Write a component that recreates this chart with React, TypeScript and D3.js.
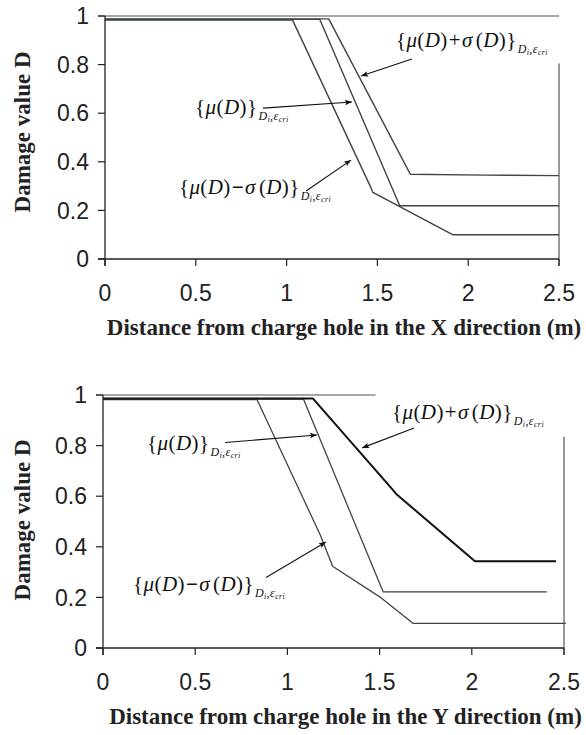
import React from "react";
import * as d3 from "d3";

// ---------- shared axis data ----------
const xTicks = [0, 0.5, 1, 1.5, 2, 2.5];
const xTickLabels = ["0", "0.5", "1", "1.5", "2", "2.5"];
const yTicks = [0, 0.2, 0.4, 0.6, 0.8, 1];
const yTickLabels = ["0", "0.2", "0.4", "0.6", "0.8", "1"];
const yTitle = "Damage value D";
const xTitleTop = "Distance from charge hole in the X direction (m)";
const xTitleBottom = "Distance from charge hole in the Y direction (m)";

// ---------- top panel (X direction) ----------
const topMinusX = [0, 1.033, 1.461, 1.475, 1.914, 2.5];
const topMinusD = [0.983, 0.983, 0.299, 0.274, 0.1, 0.1];
const topMeanX = [0, 1.183, 1.623, 2.5];
const topMeanD = [0.986, 0.986, 0.219, 0.219];
const topPlusX = [0, 1.232, 1.681, 2.1, 2.5];
const topPlusD = [0.988, 0.988, 0.349, 0.345, 0.343];

// ---------- bottom panel (Y direction) ----------
const botMinusX = [0, 0.835, 1.18, 1.245, 1.509, 1.681, 2.51];
const botMinusD = [0.982, 0.982, 0.444, 0.323, 0.198, 0.0975, 0.0975];
const botMeanX = [0, 1.087, 1.519, 2.407];
const botMeanD = [0.984, 0.984, 0.222, 0.222];
const botPlusX = [0, 1.139, 1.56, 1.59, 2.017, 2.457];
const botPlusD = [0.986, 0.986, 0.635, 0.609, 0.3425, 0.3425];

// annotation kinds: "plus", "mean", "minus"
const topAnnKind = ["plus", "mean", "minus"];
const topAnnTextX = [1.602, 0.496, 0.407];
const topAnnTextD = [0.872, 0.597, 0.267];
const topArrowFromX = [1.69, 0.87, 1.107];
const topArrowFromD = [0.823, 0.621, 0.28];
const topArrowToX = [1.41, 1.36, 1.355];
const topArrowToD = [0.753, 0.646, 0.407];

const botAnnKind = ["plus", "mean", "minus"];
const botAnnTextX = [1.567, 0.239, 0.163];
const botAnnTextD = [0.905, 0.783, 0.225];
const botArrowFromX = [1.687, 0.662, 0.884];
const botArrowFromD = [0.87, 0.812, 0.279];
const botArrowToX = [1.405, 1.16, 1.209];
const botArrowToD = [0.791, 0.842, 0.419];

const SERIF = "'Liberation Serif', 'Times New Roman', serif";
const SANS = "'Liberation Sans', Arial, sans-serif";
const CURVE = "#3d4545";

function AnnText({ kind, x, y }: { kind: string; x: number; y: number }) {
  const fs = 21;
  const it = { fontStyle: "italic" as const };
  const body =
    kind === "mean" ? (
      <>
        <tspan>{"{"}</tspan>
        <tspan {...it}>μ</tspan>
        <tspan>(</tspan>
        <tspan {...it}>D</tspan>
        <tspan>)</tspan>
        <tspan>{"}"}</tspan>
      </>
    ) : (
      <>
        <tspan>{"{"}</tspan>
        <tspan {...it}>μ</tspan>
        <tspan>(</tspan>
        <tspan {...it}>D</tspan>
        <tspan>)</tspan>
        <tspan dx={1} fontWeight={kind === "minus" ? "bold" : "normal"}>{kind === "plus" ? "+" : "−"}</tspan>
        <tspan dx={1} {...it}>σ</tspan>
        <tspan dx={3}>(</tspan>
        <tspan {...it}>D</tspan>
        <tspan>)</tspan>
        <tspan>{"}"}</tspan>
      </>
    );
  return (
    <text x={x} y={y} fontFamily={SERIF} fontSize={fs} letterSpacing={0.4} fill="#111">
      {body}
      <tspan dx={1} dy={6} fontSize={12} {...it}>D</tspan>
      <tspan dy={2} fontSize={8} {...it}>i</tspan>
      <tspan dy={-2} fontSize={12}>,</tspan>
      <tspan fontSize={12} {...it}>ε</tspan>
      <tspan dy={2} fontSize={8} {...it}>cri</tspan>
    </text>
  );
}

type PanelProps = {
  left: number; right: number; top: number; bottom: number;
  series: { x: number[]; d: number[]; w: number; c: string }[];
  topLineEnd: number; rightLineStart: number;
  annKind: string[]; annX: number[]; annD: number[];
  fromX: number[]; fromD: number[]; toX: number[]; toD: number[];
  xTitle: string; yTitleX: number; yTitleY: number; markerId: string;
};

function Panel(p: PanelProps) {
  const x = d3.scaleLinear().domain([0, 2.5]).range([p.left, p.right]);
  const y = d3.scaleLinear().domain([0, 1]).range([p.bottom, p.top]);
  const line = d3.line<[number, number]>().x((v) => x(v[0])).y((v) => y(v[1]));
  return (
    <g>
      <defs>
        <marker id={p.markerId} viewBox="0 0 10 10" refX={10} refY={5} markerWidth={10} markerHeight={7} orient="auto" markerUnits="userSpaceOnUse">
          <path d="M0,1 L10,5 L0,9 L2,5 Z" fill="#111" />
        </marker>
      </defs>
      {/* top border at D=1 */}
      <line x1={x(0) - 7} x2={x(p.topLineEnd)} y1={y(1)} y2={y(1)} stroke="#8a8a8a" strokeWidth={1.4} />
      {/* right border */}
      <line x1={x(2.5)} x2={x(2.5)} y1={y(p.rightLineStart)} y2={y(0) + 7} stroke="#555" strokeWidth={1.2} />
      {/* curves */}
      {p.series.map((s, i) => (
        <path key={i} d={line(s.x.map((v, j) => [v, s.d[j]] as [number, number])) || ""} fill="none" stroke={s.c} strokeWidth={s.w} strokeLinejoin="round" />
      ))}
      {/* axes */}
      <line x1={x(0)} x2={x(0)} y1={y(1)} y2={y(0) + 7} stroke="#222" strokeWidth={1.3} />
      <line x1={x(0) - 7} x2={x(2.5)} y1={y(0)} y2={y(0)} stroke="#222" strokeWidth={1.4} />
      {yTicks.map((t, i) => (
        <g key={"y" + i}>
          <line x1={x(0) - 7} x2={x(0)} y1={y(t)} y2={y(t)} stroke="#222" strokeWidth={1.2} />
          <text x={x(0) - 16} y={y(t)} dy="0.36em" textAnchor="end" fontFamily={SANS} fontSize={23} fill="#222">
            {yTickLabels[i]}
          </text>
        </g>
      ))}
      {xTicks.map((t, i) => (
        <g key={"x" + i}>
          <line x1={x(t)} x2={x(t)} y1={y(0)} y2={y(0) + 7} stroke="#222" strokeWidth={1.2} />
          <text x={x(t)} y={y(0) + 42} textAnchor="middle" fontFamily={SANS} fontSize={23} fill="#222">
            {xTickLabels[i]}
          </text>
        </g>
      ))}
      {/* annotations */}
      {p.annKind.map((k, i) => (
        <g key={"a" + i}>
          <AnnText kind={k} x={x(p.annX[i])} y={y(p.annD[i])} />
          <line x1={x(p.fromX[i])} y1={y(p.fromD[i])} x2={x(p.toX[i])} y2={y(p.toD[i])} stroke="#111" strokeWidth={1.1} markerEnd={`url(#${p.markerId})`} />
        </g>
      ))}
      {/* titles */}
      <text x={(p.left + p.right) / 2 + 12} y={y(0) + 76} textAnchor="middle" fontFamily={SERIF} fontWeight="bold" fontSize={23} fill="#222">
        {p.xTitle}
      </text>
      <text transform={`translate(${p.yTitleX},${p.yTitleY}) rotate(-90)`} textAnchor="middle" dy="0.35em" fontFamily={SERIF} fontWeight="bold" fontSize={23} fill="#222">
        {yTitle}
      </text>
    </g>
  );
}

export default function App() {
  return (
    <svg width={586} height={735} style={{ position: "absolute", left: 0, top: 0, background: "#fff" }}>
      <rect width={586} height={735} fill="#fff" />
      <Panel
        left={105} right={559} top={16} bottom={259}
        series={[
          { x: topMinusX, d: topMinusD, w: 1.4, c: CURVE },
          { x: topMeanX, d: topMeanD, w: 1.4, c: CURVE },
          { x: topPlusX, d: topPlusD, w: 1.4, c: CURVE },
        ]}
        topLineEnd={2.5} rightLineStart={0.805}
        annKind={topAnnKind} annX={topAnnTextX} annD={topAnnTextD}
        fromX={topArrowFromX} fromD={topArrowFromD} toX={topArrowToX} toD={topArrowToD}
        xTitle={xTitleTop} yTitleX={22} yTitleY={132} markerId="arrTop"
      />
      <Panel
        left={103} right={564} top={395} bottom={648}
        series={[
          { x: botMinusX, d: botMinusD, w: 1.3, c: CURVE },
          { x: botMeanX, d: botMeanD, w: 1.3, c: CURVE },
          { x: botPlusX, d: botPlusD, w: 2, c: "#111" },
        ]}
        topLineEnd={1.478} rightLineStart={0.835}
        annKind={botAnnKind} annX={botAnnTextX} annD={botAnnTextD}
        fromX={botArrowFromX} fromD={botArrowFromD} toX={botArrowToX} toD={botArrowToD}
        xTitle={xTitleBottom} yTitleX={22} yTitleY={520} markerId="arrBot"
      />
    </svg>
  );
}
